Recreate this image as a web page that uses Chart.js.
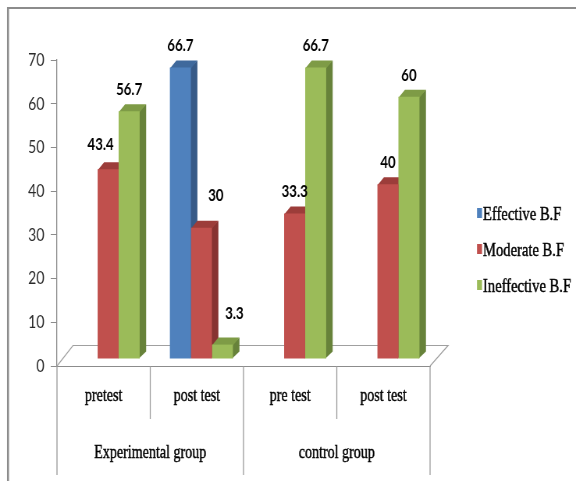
<!DOCTYPE html>
<html><head><meta charset="utf-8">
<script src="https://cdn.jsdelivr.net/npm/chart.js@4/dist/chart.umd.min.js"></script>
<style>
html,body{margin:0;padding:0;overflow:hidden;background:#fff;width:576px;height:481px}
#wrap{width:738px;height:481px;transform:scaleX(0.780488);transform-origin:0 0}
canvas{display:block}
</style></head><body>
<div id="wrap"><canvas id="c" width="738" height="481"></canvas></div>
<script>
// ---- data ----
const categories = ['pretest', 'post test', 'pre test', 'post test'];
const groupNames = ['Experimental group', 'control group'];
const seriesNames = ['Effective B.F', 'Moderate B.F', 'Ineffective B.F'];
const effective = [null, 66.7, null, null];
const moderate = [43.4, 30, 33.3, 40];
const ineffective = [56.7, 3.3, 66.7, 60];
const yMin = 0, yMax = 70, yStep = 10;

// ---- styling ----
const K = 738 / 576; // canvas px per displayed px (horizontal condense)
const colors = {
  front: ['#4F81BD', '#C0504D', '#9BBB59'],
  top:   ['#3F699C', '#9C3D3A', '#7E9B46'],
  side:  ['#375A87', '#873331', '#67823A']
};
const DEPTH = { dx: 6.5 * K, dy: -7 };
const SHIFT = { x: 4.5 * K, y: -7 };
// label nudges (series-category) in displayed px
const labelNudge = { '1-0': [-7.5, -3.5], '1-1': [14.5, -10.5], '2-1': [12, -10] };
const gridGrey = '#8c8c8c';
const TEXT_STROKE = 0.45;

const threeD = {
  id: 'threeD',
  beforeDatasetsDraw(chart) {
    const { ctx, chartArea: a } = chart;
    // floor
    ctx.save();
    ctx.strokeStyle = '#a0a0a0';
    ctx.lineWidth = 1.2;
    ctx.beginPath();
    ctx.moveTo(a.left, a.bottom);
    ctx.lineTo(a.left + 16 * K, a.bottom - 20.5);
    ctx.lineTo(a.right + 18 * K, a.bottom - 20.5);
    ctx.lineTo(a.right, a.bottom);
    ctx.stroke();
    ctx.restore();

    ctx.save();
    ctx.translate(SHIFT.x, SHIFT.y);
    const metas = chart.getSortedVisibleDatasetMetas();
    for (let c = 0; c < categories.length; c++) {
      metas.forEach(meta => {
        const s = meta.index;
        const v = chart.data.datasets[s].data[c];
        if (v == null) return;
        const { x, y, base, width } = meta.data[c].getProps(['x', 'y', 'base', 'width'], true);
        const l = x - width / 2, r = x + width / 2;
        const dx = DEPTH.dx, dy = DEPTH.dy;
        ctx.fillStyle = colors.side[s];
        ctx.beginPath();
        ctx.moveTo(r - 1, y); ctx.lineTo(r + dx, y + dy); ctx.lineTo(r + dx, base + dy); ctx.lineTo(r - 1, base);
        ctx.closePath(); ctx.fill();
        ctx.fillStyle = colors.top[s];
        ctx.beginPath();
        ctx.moveTo(l, y + 1); ctx.lineTo(l + dx, y + dy); ctx.lineTo(r + dx, y + dy); ctx.lineTo(r, y + 1);
        ctx.closePath(); ctx.fill();
      });
    }
  },
  afterDatasetsDraw(chart) {
    const { ctx } = chart;
    ctx.font = 'bold 17px Lato';
    ctx.fillStyle = '#000';
    ctx.textAlign = 'center';
    ctx.textBaseline = 'middle';
    chart.getSortedVisibleDatasetMetas().forEach(meta => {
      const s = meta.index;
      chart.data.datasets[s].data.forEach((v, c) => {
        if (v == null) return;
        const el = meta.data[c];
        const n = labelNudge[s + '-' + c] || [0, 0];
        ctx.fillText(String(v), el.x + n[0] * K, el.y - 21.5 + n[1]);
      });
    });
    ctx.restore();
  },
  afterDraw(chart) {
    const { ctx, chartArea: a } = chart;
    ctx.save();
    // outer border (top & left)
    ctx.strokeStyle = gridGrey;
    ctx.lineWidth = 2;
    ctx.beginPath(); ctx.moveTo(8 * K, 8); ctx.lineTo(chart.width, 8); ctx.stroke();
    ctx.lineWidth = 2 * K;
    ctx.beginPath(); ctx.moveTo(8 * K, 7); ctx.lineTo(8 * K, chart.height); ctx.stroke();
    // category dividers
    const xs = chart.scales.x;
    const cw = (a.right - a.left) / categories.length;
    ctx.strokeStyle = '#9a9a9a';
    ctx.lineWidth = 1.3;
    for (let i = 0; i <= categories.length; i++) {
      const x = a.left + i * cw;
      const long = i % 2 === 0;
      ctx.beginPath(); ctx.moveTo(x, a.bottom); ctx.lineTo(x, long ? 475 : 419); ctx.stroke();
    }
    // group labels
    ctx.fillStyle = '#000';
    ctx.strokeStyle = '#000';
    ctx.lineWidth = TEXT_STROKE;
    ctx.font = '18px "Liberation Serif"';
    ctx.textAlign = 'center';
    ctx.textBaseline = 'alphabetic';
    groupNames.forEach((g, i) => {
      const x = (xs.getPixelForValue(i * 2) + xs.getPixelForValue(i * 2 + 1)) / 2;
      ctx.fillText(g, x, 458);
      ctx.strokeText(g, x, 458);
    });
    // legend
    ctx.font = '18.7px "Liberation Serif"';
    ctx.textAlign = 'left';
    chart.data.datasets.forEach((ds, i) => {
      const yb = 220 + i * 36;
      ctx.fillStyle = colors.front[i];
      ctx.fillRect(477 * K, yb - 12, 5 * K, 10);
      ctx.fillStyle = '#000';
      ctx.fillText(ds.label, 483 * K, yb);
      ctx.strokeText(ds.label, 483 * K, yb);
    });
    ctx.restore();
  }
};

new Chart(document.getElementById('c'), {
  type: 'bar',
  data: {
    labels: categories,
    datasets: [
      { label: seriesNames[0], data: effective, backgroundColor: colors.front[0] },
      { label: seriesNames[1], data: moderate, backgroundColor: colors.front[1] },
      { label: seriesNames[2], data: ineffective, backgroundColor: colors.front[2] }
    ]
  },
  options: {
    responsive: false,
    animation: false,
    devicePixelRatio: 1,
    layout: { padding: { left: 0, right: 187, top: 60, bottom: 0 } },
    datasets: { bar: { barPercentage: 1, categoryPercentage: 0.676, borderWidth: 0, clip: false } },
    plugins: { legend: { display: false }, tooltip: { enabled: false } },
    scales: {
      x: {
        grid: { display: true, drawOnChartArea: false, drawTicks: false },
        border: { display: true, color: gridGrey, width: 1 },
        ticks: { font: { family: 'Liberation Serif', size: 18 }, color: '#000', padding: 19, maxRotation: 0,
                 textStrokeColor: '#000', textStrokeWidth: TEXT_STROKE },
        afterFit(s) { s.height = 115; }
      },
      y: {
        min: yMin, max: yMax,
        grid: { display: true, drawOnChartArea: false, drawTicks: true, tickLength: 8, color: gridGrey },
        border: { display: true, color: gridGrey, width: 1.3 },
        ticks: { stepSize: yStep, font: { family: 'Lato', size: 18 }, color: '#2a2a2a', padding: 8 },
        afterFit(s) { s.width = 73; }
      }
    }
  },
  plugins: [threeD]
});
</script>
</body></html>
